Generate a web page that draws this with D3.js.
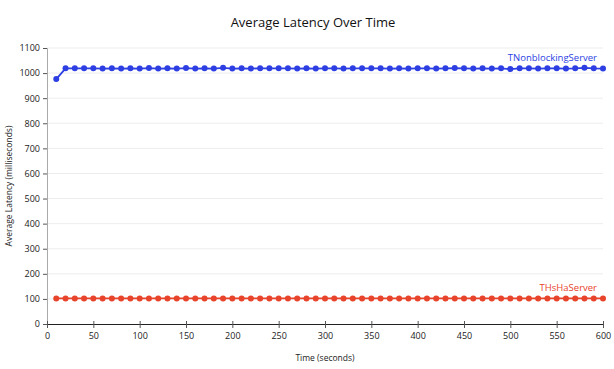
<!DOCTYPE html>
<html><head><meta charset="utf-8">
<script src="https://cdn.jsdelivr.net/npm/d3@7"></script>
<style>
body{margin:0;background:#fff;}
text{font-family:"Open Sans","DejaVu Sans",sans-serif;}
</style></head>
<body><svg id="c" width="614" height="369"></svg>
<script>
const times = d3.range(10, 601, 10);
const nonblocking = [976,1019,1019,1019,1019,1018,1019,1018,1019,1018,
 1020,1018,1019,1018,1020,1018,1019,1018,1021,1018,
 1019,1018,1019,1019,1019,1019,1018,1019,1018,1019,
 1019,1018,1019,1019,1019,1019,1018,1019,1018,1019,
 1019,1018,1019,1020,1019,1018,1019,1018,1019,1016,
 1019,1019,1018,1019,1019,1018,1019,1021,1019,1018];
const hsha = times.map(()=>102);
const xTicks = [0,50,100,150,200,250,300,350,400,450,500,550,600];
const yTicks = [0,100,200,300,400,500,600,700,800,900,1000,1100];
const seriesNames = ["TNonblockingServer","THsHaServer"];
const colors = ["#2d3fe3","#e8432b"];

const svg = d3.select("#c");
const x = d3.scaleLinear().domain([0,600]).range([47,603]);
const y = d3.scaleLinear().domain([0,1100]).range([324,48]);

svg.append("g").selectAll("line").data(yTicks.slice(1)).join("line")
  .attr("x1",47).attr("x2",603).attr("y1",d=>y(d)).attr("y2",d=>y(d))
  .attr("stroke","#ededed").attr("stroke-width",1);

const ya = svg.append("g").attr("transform","translate(47,0)")
  .call(d3.axisLeft(y).tickValues(yTicks).tickFormat(d3.format("d")).tickSize(4).tickPadding(3));
ya.select(".domain").attr("stroke","#aaa");
ya.selectAll(".tick line").attr("stroke","#555");
ya.selectAll("text").attr("font-size","9px").attr("fill","#222");

const xa = svg.append("g").attr("transform","translate(0,324)")
  .call(d3.axisBottom(x).tickValues(xTicks).tickFormat(d3.format("d")).tickSize(4).tickPadding(5));
xa.select(".domain").attr("stroke","#222");
xa.selectAll(".tick line").attr("stroke","#555").attr("y1",-3);
xa.selectAll("text").attr("font-size","9px").attr("fill","#222");

const series = [nonblocking, hsha];
series.forEach((vals,i)=>{
  const pts = times.map((t,j)=>[t,vals[j]]);
  svg.append("path").datum(pts)
    .attr("d",d3.line().x(d=>x(d[0])).y(d=>y(d[1])))
    .attr("fill","none").attr("stroke",colors[i]).attr("stroke-width",1.8);
  svg.append("g").selectAll("circle").data(pts).join("circle")
    .attr("cx",d=>x(d[0])).attr("cy",d=>y(d[1])).attr("r",3)
    .attr("fill",colors[i]);
});

svg.append("text").attr("x",597).attr("y",61).attr("text-anchor","end")
  .attr("font-size","9.5px").attr("fill",colors[0]).text(seriesNames[0]);
svg.append("text").attr("x",597).attr("y",291).attr("text-anchor","end")
  .attr("font-size","9.5px").attr("fill",colors[1]).text(seriesNames[1]);

svg.append("text").attr("x",313).attr("y",27).attr("text-anchor","middle")
  .attr("font-size","13px").attr("fill","#111").text("Average Latency Over Time");
svg.append("text").attr("x",325).attr("y",361).attr("text-anchor","middle")
  .attr("font-size","8.5px").attr("fill","#222").text("Time (seconds)");
svg.append("text").attr("transform","translate(12,186) rotate(-90)").attr("text-anchor","middle")
  .attr("font-size","8.5px").attr("fill","#222").text("Average Latency (milliseconds)");
</script></body></html>
